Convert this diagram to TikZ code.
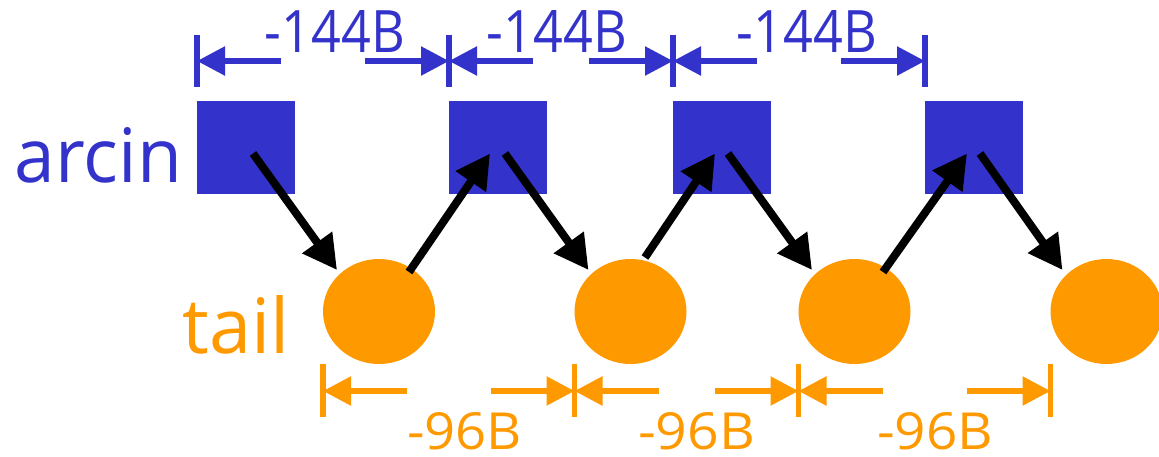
\documentclass[tikz,border=0pt]{standalone}
\usepackage{graphicx}
\usepackage{fontspec}
\setmainfont{Open Sans}
\usetikzlibrary{arrows.meta,shapes.geometric,calc}
\definecolor{myblue}{RGB}{51,51,204}
\definecolor{myorange}{RGB}{255,153,0}
\begin{document}
\begin{tikzpicture}[x=1pt,y=-1pt,
  box/.style={fill=myblue, minimum width=98pt, minimum height=93pt, inner sep=0pt, outer sep=0pt},
  ball/.style={ellipse, fill=myorange, minimum width=112pt, minimum height=105pt, inner sep=0pt, outer sep=0pt},
  link/.style={line width=8pt, -{Triangle[length=34pt,width=35pt]}},
  bdim/.style={myblue, line width=5.5pt, -{Triangle[length=28pt,width=28pt]}},
  odim/.style={myorange, line width=5.5pt, -{Triangle[length=28pt,width=28pt]}},
  btick/.style={myblue, line width=5.5pt},
  otick/.style={myorange, line width=5.5pt},
  lbl/.style={anchor=base, inner sep=0pt, outer sep=0pt}
]
\useasboundingbox (0,0) rectangle (1159,456);

% squares
\node[box] (s1) at (246,147.5) {};
\node[box] (s2) at (498,147.5) {};
\node[box] (s3) at (722,147.5) {};
\node[box] (s4) at (974,147.5) {};

% circles
\node[ball] (c1) at (379,311.5) {};
\node[ball] (c2) at (630.5,311.5) {};
\node[ball] (c3) at (854.5,311.5) {};
\node[ball] (c4) at (1106.5,311.5) {};

% links
\draw[link] ($(s1.center)+(7,6)$) -- ($(c1.center)+(-42,-41.5)$);
\draw[link] ($(c1.center)+(30,-39.5)$) -- ($(s2.center)+(-8,6)$);
\draw[link] ($(s2.center)+(7,6)$) -- ($(c2.center)+(-42,-41.5)$);
\draw[link] ($(c2.center)+(14.5,-54)$) -- ($(s3.center)+(-7,6)$);
\draw[link] ($(s3.center)+(6,6)$) -- ($(c3.center)+(-42.5,-41.5)$);
\draw[link] ($(c3.center)+(28.5,-39.5)$) -- ($(s4.center)+(-7,6)$);
\draw[link] ($(s4.center)+(6,6)$) -- ($(c4.center)+(-44,-41.5)$);

% top dimension coordinates
\coordinate (t1) at (s1.west |- 0,61);
\coordinate (t2) at (s2.west |- 0,61);
\coordinate (t3) at (s3.west |- 0,61);
\coordinate (t4) at (s4.west |- 0,61);
\foreach \t in {t1,t2,t3,t4}{
  \draw[btick] ($(\t)+(0,-26)$) -- ($(\t)+(0,26)$);
}
\draw[bdim] ($(t1)+(84,0)$) -- (t1);
\draw[bdim] ($(t2)+(-84,0)$) -- (t2);
\draw[bdim] ($(t2)+(84,0)$) -- (t2);
\draw[bdim] ($(t3)+(-84,0)$) -- (t3);
\draw[bdim] ($(t3)+(84,0)$) -- (t3);
\draw[bdim] ($(t4)+(-84,0)$) -- (t4);

% bottom dimension coordinates
\coordinate (b1) at (c1.west |- 0,391);
\coordinate (b2) at (c2.west |- 0,391);
\coordinate (b3) at (c3.west |- 0,391);
\coordinate (b4) at (c4.west |- 0,391);
\foreach \b in {b1,b2,b3,b4}{
  \draw[otick] ($(\b)+(0,-27)$) -- ($(\b)+(0,26)$);
}
\draw[odim] ($(b1)+(84,0)$) -- (b1);
\draw[odim] ($(b2)+(-84,0)$) -- (b2);
\draw[odim] ($(b2)+(84,0)$) -- (b2);
\draw[odim] ($(b3)+(-84,0)$) -- (b3);
\draw[odim] ($(b3)+(84,0)$) -- (b3);
\draw[odim] ($(b4)+(-84,0)$) -- (b4);

% labels
\node[lbl, text=myblue] (arcin) at (98.5,182) {\resizebox{167pt}{55pt}{arcin}};
\node[lbl, text=myorange] (tail) at (236.5,353) {\resizebox{107pt}{58pt}{tail}};

\node[lbl, text=myblue] (top1) at (335,52) {\resizebox{140pt}{42pt}{-144B}};
\node[lbl, text=myblue] (top2) at (557,52) {\resizebox{140pt}{42pt}{-144B}};
\node[lbl, text=myblue] (top3) at (807,52) {\resizebox{140pt}{42pt}{-144B}};

\node[lbl, text=myorange] (bot1) at (464.5,449) {\resizebox{115pt}{37pt}{-96B}};
\node[lbl, text=myorange] (bot2) at (696.5,449) {\resizebox{117pt}{37pt}{-96B}};
\node[lbl, text=myorange] (bot3) at (935,449) {\resizebox{116pt}{37pt}{-96B}};
\end{tikzpicture}
\end{document}
